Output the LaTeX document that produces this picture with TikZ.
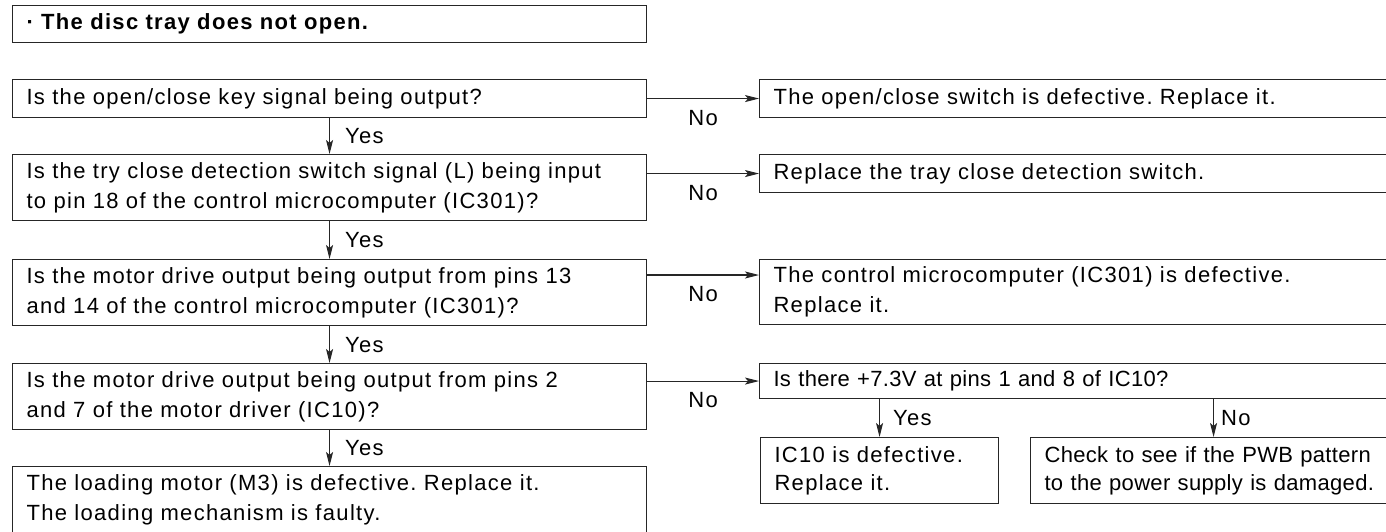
\documentclass[tikz,border=0pt]{standalone}
\usepackage{fontspec}
\setmainfont{Liberation Sans}[LetterSpace=6]
\newfontfamily\narrowfont{Liberation Sans}[LetterSpace=1.5]
\usetikzlibrary{arrows.meta}
\begin{document}
\frenchspacing
\begin{tikzpicture}[x=1pt,y=-1pt,
  box/.style={draw=black!85, line width=1.1pt, rectangle, anchor=north west,
    inner xsep=14pt, inner ysep=0pt, align=left, font=\fontsize{22}{30}\selectfont},
  lbox/.style={box, minimum width=634pt, text width=606pt},
  rbox/.style={box, minimum width=637pt, text width=609pt},
  arr/.style={draw=black!85, line width=1.1pt, -{Stealth[length=14pt,width=7pt,inset=3pt]}},
  lab/.style={inner sep=0pt, font=\fontsize{22}{30}\selectfont}
]
\path[use as bounding box] (0,0) rectangle (1386,531);
\clip (0,0) rectangle (1386,531);

\node[lbox, minimum height=37pt, font=\bfseries\fontsize{22}{30}\selectfont] (title) at (12,5) {· The disc tray does not open.};

\node[lbox, minimum height=38pt] (q1) at (12,79) {\mbox{Is the open/close key signal being output?}};
\node[rbox, minimum height=38pt] (r1) at (759,79) {\mbox{The open/close switch is defective. Replace it.}};

\node[lbox, minimum height=66pt] (q2) at (12,154) {\mbox{Is the try close detection switch signal (L) being input}\\\mbox{to pin 18 of the control microcomputer (IC301)?}};
\node[rbox, minimum height=38pt] (r2) at (759,154) {\mbox{Replace the tray close detection switch.}};

\node[lbox, minimum height=66pt] (q3) at (12,259) {\mbox{Is the motor drive output being output from pins 13}\\\mbox{and 14 of the control microcomputer (IC301)?}};
\node[rbox, minimum height=65pt] (r3) at (759,259) {\mbox{The control microcomputer (IC301) is defective.}\\Replace it.};

\node[lbox, minimum height=66pt] (q4) at (12,363) {\mbox{Is the motor drive output being output from pins 2}\\\mbox{and 7 of the motor driver (IC10)?}};
\node[rbox, minimum height=35pt, font=\narrowfont\fontsize{22}{30}\selectfont] (q5) at (759,363) {\mbox{Is there +7.3V at pins 1 and 8 of IC10?}};

\node[lbox, minimum height=66pt] (fin) at (12,466) {\mbox{The loading motor (M3) is defective. Replace it.}\\\mbox{The loading mechanism is faulty.}};

\node[box, minimum width=238pt, text width=210pt, minimum height=66pt, font=\fontsize{22}{28}\selectfont] (ic) at (760,437) {\mbox{IC10 is defective.}\\Replace it.};
\node[box, minimum width=366pt, text width=338pt, minimum height=66pt, font=\narrowfont\fontsize{22}{28}\selectfont] (pwb) at (1030,437) {\mbox{Check to see if the PWB pattern}\\\mbox{to the power supply is damaged.}};

% No branches
\draw[arr] (q1.east) -- (r1.west) node[lab, midway, yshift=-19pt] {No};
\draw[arr] (q2.east |- r2.west) -- (r2.west) node[lab, midway, yshift=-19pt] {No};
\coordinate (q3o) at ([yshift=-16pt]q3.north east);
\draw[arr] (q3o) -- (q3o -| r3.west) node[lab, midway, yshift=-19pt] {No};
\draw[arr] (q4.east |- q5.west) -- (q5.west) node[lab, midway, yshift=-19pt] {No};

% Yes branches
\draw[arr] (q1.south) -- (q2.north) node[lab, midway, anchor=west, xshift=15pt] {Yes};
\draw[arr] (q2.south) -- (q3.north) node[lab, midway, anchor=west, xshift=15pt] {Yes};
\draw[arr] (q3.south) -- (q4.north) node[lab, midway, anchor=west, xshift=15pt] {Yes};
\draw[arr] (q4.south) -- (fin.north) node[lab, midway, anchor=west, xshift=15pt] {Yes};

\draw[arr] (ic.north |- q5.south) -- (ic.north) node[lab, midway, anchor=west, xshift=13pt] {Yes};
\draw[arr] (pwb.north |- q5.south) -- (pwb.north) node[lab, midway, anchor=west, xshift=7pt] {No};
\end{tikzpicture}
\end{document}
